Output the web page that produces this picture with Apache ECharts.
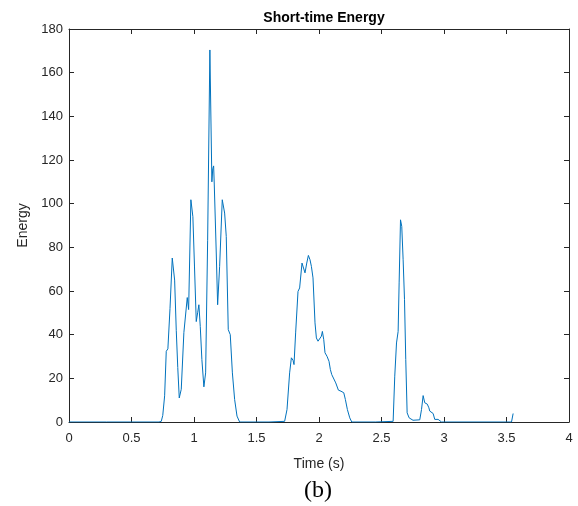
<!DOCTYPE html>
<html>
<head>
<meta charset="utf-8">
<script src="https://cdn.jsdelivr.net/npm/echarts@6/dist/echarts.min.js"></script>
<style>
  html, body { margin: 0; padding: 0; background: #fff; }
  #chart { width: 578px; height: 506px; }
</style>
</head>
<body>
<div id="chart"></div>
<script>
// Short-time energy curve (time in s, energy)
const timeSec = [
  0, 0.3, 0.6, 0.72, 0.738, 0.75, 0.765, 0.778, 0.791, 0.808, 0.826, 0.845, 0.858, 0.870, 0.882,
  0.898, 0.919, 0.933, 0.946, 0.957, 0.975, 0.991, 1.004, 1.018, 1.029, 1.039, 1.050, 1.063,
  1.079, 1.093, 1.109, 1.127, 1.143, 1.150, 1.157, 1.162, 1.178, 1.189, 1.205, 1.226, 1.245,
  1.258, 1.274, 1.290, 1.307, 1.325, 1.344, 1.365,
  1.60, 1.725, 1.744, 1.765, 1.779, 1.792, 1.800, 1.813, 1.832, 1.845, 1.864, 1.877, 1.888,
  1.902, 1.915, 1.928, 1.939, 1.952, 1.968, 1.979, 1.992, 2.005, 2.019, 2.027, 2.038, 2.048,
  2.064, 2.080, 2.091, 2.102, 2.118, 2.134, 2.155, 2.176, 2.198, 2.211, 2.227, 2.246, 2.262,
  2.45, 2.593, 2.606, 2.620, 2.633, 2.641, 2.652, 2.662, 2.673, 2.684, 2.694, 2.705, 2.721,
  2.752, 2.806, 2.820, 2.833, 2.846, 2.860, 2.866, 2.879, 2.886, 2.900, 2.913, 2.926, 2.940,
  2.953, 2.966, 2.980, 3.2, 3.540, 3.553, 3.558
];
const energy = [
  0, 0, 0, 0, 0.3, 3, 12, 32.4, 33.5, 52, 75.1, 65, 42, 25, 11,
  15, 41, 41.5, 57, 51.5, 101.8, 94, 71, 46, 50, 53.7, 43.8, 28.6,
  16.1, 22.5, 83, 170.4, 110, 116, 117.3, 109, 77.4, 53.7, 71.3, 101.8, 95.7,
  85, 42.3, 40, 22.5, 10.3, 2.7, 0,
  0, 0.3, 5.7, 22.5, 29.4, 28.3, 26.3, 40.8, 59.8, 61.4, 72.8, 72.8, 68.3,
  72.8, 76.3, 74.3, 71.3, 66, 45.4, 38.5, 37, 36.2, 39.3, 41.5, 37.7, 31.7,
  30.1, 27.8, 24, 21.7, 21, 17.9, 14.6, 14.1, 13.4, 10.3, 5.7, 1.9, 0,
  0, 0.3, 21, 36.2, 41.5, 63.7, 92.6, 89.6, 74.3, 56, 28.6, 4.2, 1.9,
  0.8, 1, 5.7, 12.1, 8.8, 8, 8.2, 6.5, 5, 4.5, 3.9, 1.2, 2,
  1.2, 0.5, 0, 0, 0, 3.9, 4
];

const xTicks = [0, 0.5, 1, 1.5, 2, 2.5, 3, 3.5, 4];
const yTicks = [0, 20, 40, 60, 80, 100, 120, 140, 160, 180];

const seriesData = timeSec.map((t, i) => [t, energy[i]]);

const axisColor = '#262626';
const fontSans = 'Liberation Sans, Arial, sans-serif';

const chart = echarts.init(document.getElementById('chart'));

const baseX = {
  type: 'value',
  min: xTicks[0],
  max: xTicks[xTicks.length - 1],
  interval: 0.5,
  splitLine: { show: false },
  axisLine: { show: true, onZero: false, lineStyle: { color: axisColor, width: 1 } },
  axisTick: { show: true, inside: true, length: 5, lineStyle: { color: axisColor } }
};
const baseY = {
  type: 'value',
  min: yTicks[0],
  max: yTicks[yTicks.length - 1],
  interval: 20,
  splitLine: { show: false },
  axisLine: { show: true, onZero: false, lineStyle: { color: axisColor, width: 1 } },
  axisTick: { show: true, inside: true, length: 5, lineStyle: { color: axisColor } }
};

chart.setOption({
  animation: false,
  title: {
    text: 'Short-time Energy',
    left: 319,
    top: 6,
    textAlign: 'center',
    textStyle: { fontFamily: fontSans, fontSize: 14, fontWeight: 'bold', color: '#000' }
  },
  grid: { left: 69, top: 29, width: 500, height: 393, containLabel: false },
  xAxis: [
    Object.assign({}, baseX, {
      position: 'bottom',
      name: 'Time (s)',
      nameLocation: 'middle',
      nameGap: 35,
      nameTextStyle: { fontFamily: fontSans, fontSize: 14, color: axisColor },
      axisLabel: { fontFamily: fontSans, fontSize: 13, color: axisColor, margin: 10 }
    }),
    Object.assign({}, baseX, { position: 'top', axisLabel: { show: false } })
  ],
  yAxis: [
    Object.assign({}, baseY, {
      position: 'left',
      name: 'Energy',
      nameLocation: 'middle',
      nameGap: 37,
      nameTextStyle: { fontFamily: fontSans, fontSize: 14, color: axisColor },
      axisLabel: { fontFamily: fontSans, fontSize: 13, color: axisColor, margin: 6 }
    }),
    Object.assign({}, baseY, { position: 'right', axisLabel: { show: false } })
  ],
  graphic: [
    {
      type: 'text',
      x: 318,
      y: 479,
      style: {
        text: '(b)',
        fontFamily: 'Liberation Serif, Times New Roman, serif',
        fontSize: 24,
        fill: '#000',
        textAlign: 'center'
      }
    }
  ],
  series: [
    {
      type: 'line',
      data: seriesData,
      showSymbol: false,
      smooth: false,
      lineStyle: { color: '#0072BD', width: 1 },
      itemStyle: { color: '#0072BD' }
    }
  ]
});
</script>
</body>
</html>
